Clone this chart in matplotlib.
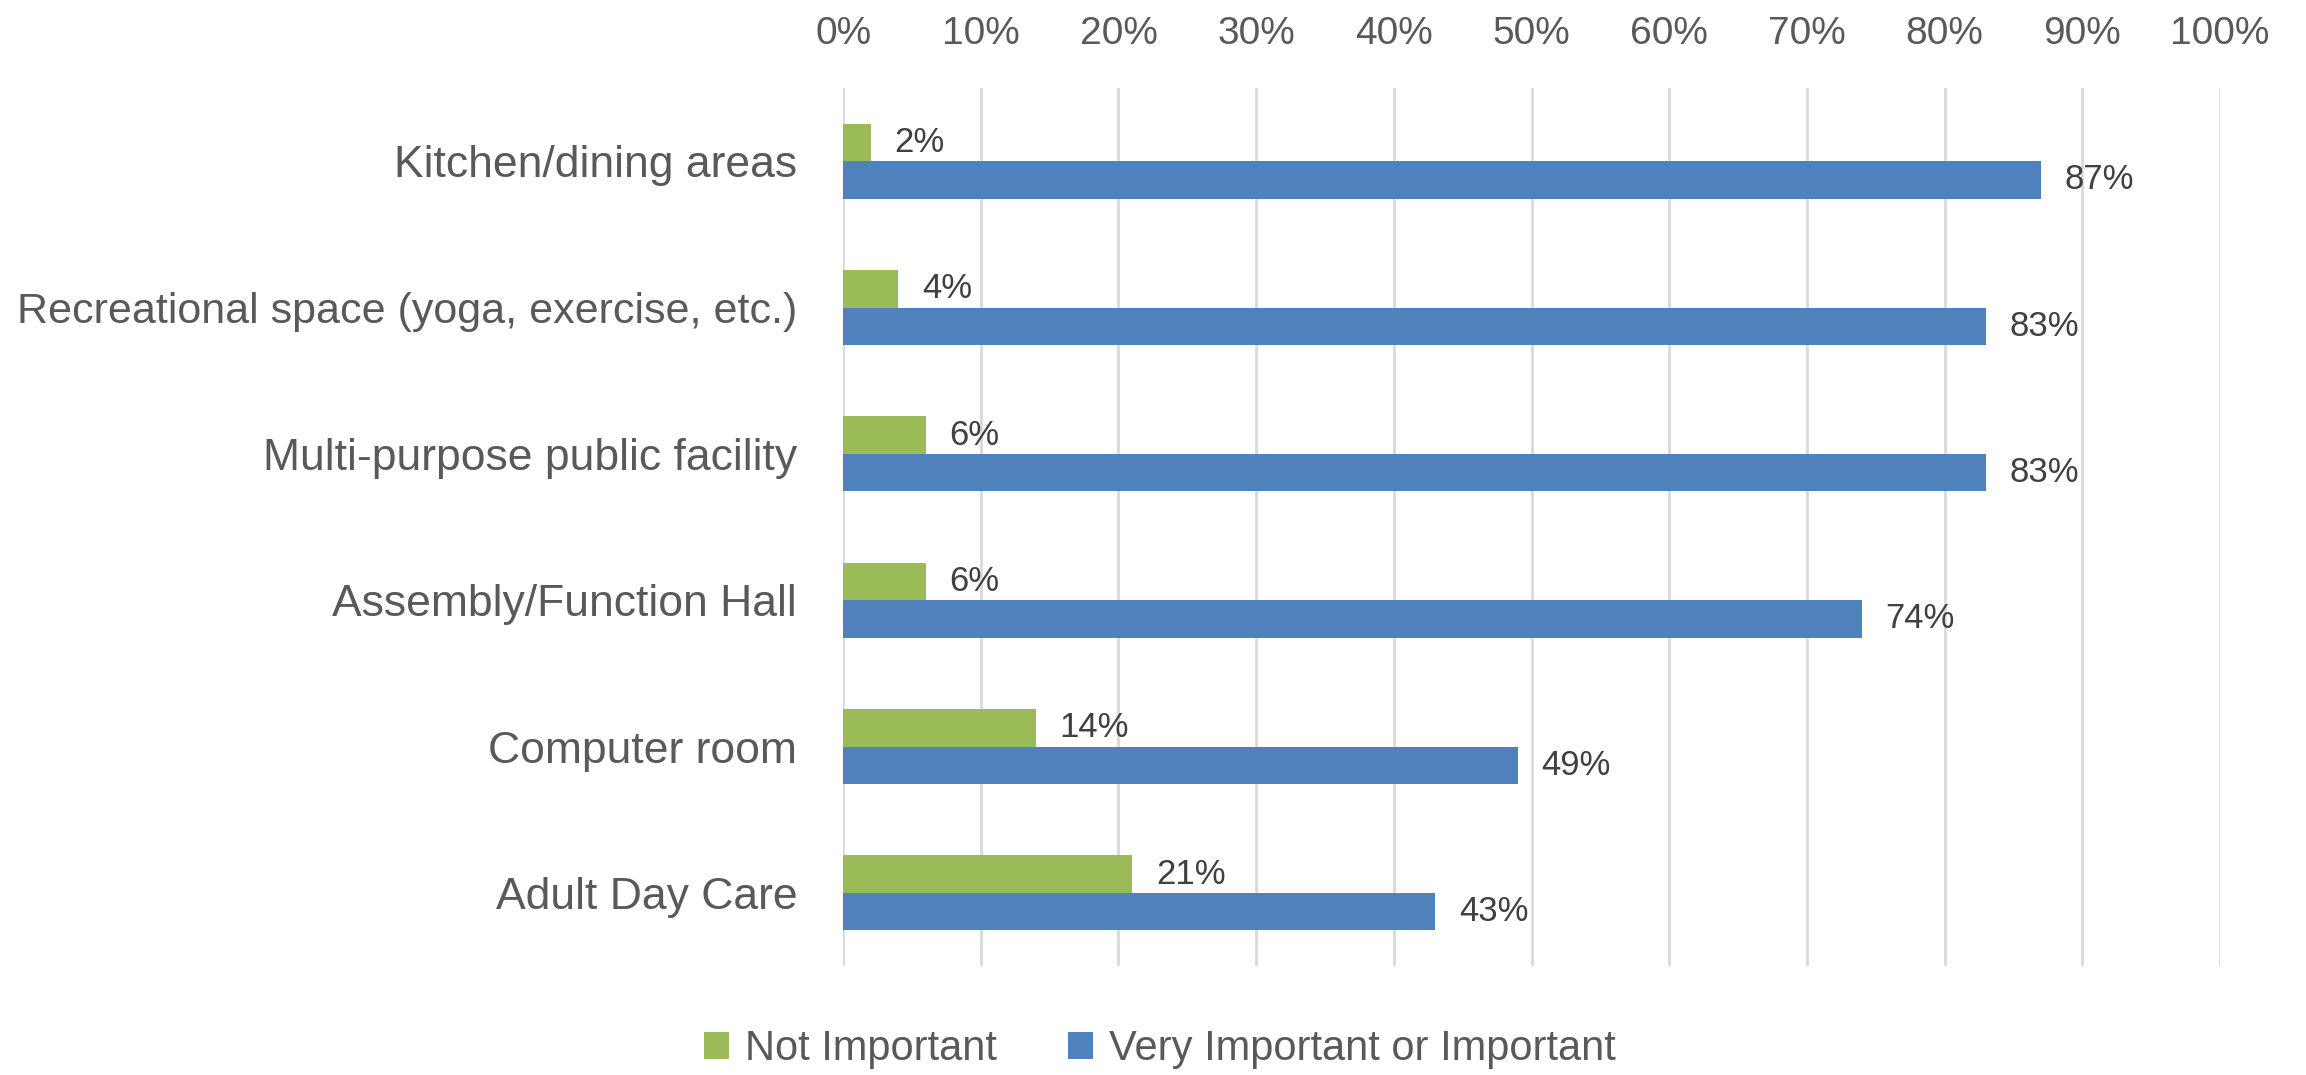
import matplotlib
matplotlib.use("Agg")
import matplotlib.pyplot as plt
from matplotlib.patches import Patch
import numpy as np

categories = [
    "Kitchen/dining areas",
    "Recreational space (yoga, exercise, etc.)",
    "Multi-purpose public facility",
    "Assembly/Function Hall",
    "Computer room",
    "Adult Day Care",
]
not_important = [2, 4, 6, 6, 14, 21]
very_important = [87, 83, 83, 74, 49, 43]
x_ticks = [0, 10, 20, 30, 40, 50, 60, 70, 80, 90, 100]
series_names = ["Not Important", "Very Important or Important"]

GREEN = "#9BBB59"
BLUE = "#4F81BD"
TEXT = "#595959"
LABEL = "#404040"
GRID = "#D9D9D9"

REG = ["Liberation Sans", "DejaVu Sans"]

fig = plt.figure(figsize=(23.06, 10.75), dpi=100)
ax = fig.add_axes([0.3656, 0.1014, 0.5971, 0.8167])

y = np.arange(len(categories))
h = 0.256
b1 = ax.barh(y - h / 2, not_important, height=h, color=GREEN, zorder=3)
b2 = ax.barh(y + h / 2, very_important, height=h, color=BLUE, zorder=3)

for cont, vals in ((b1, not_important), (b2, very_important)):
    ax.bar_label(cont, labels=[f"{v}%" for v in vals], padding=17,
                 color=LABEL, fontsize=25, family=REG)

ax.set_xlim(0, 100)
ax.set_ylim(len(categories) - 0.5, -0.5)
ax.set_xticks(x_ticks)
ax.set_xticklabels([f"{t}%" for t in x_ticks], family=REG, fontsize=28, color=TEXT)
ax.xaxis.tick_top()
ax.tick_params(axis="x", length=0, pad=26)
ax.set_yticks(y)
ax.set_yticklabels(categories, family=REG, fontsize=32, color=TEXT)
for lbl in ax.get_yticklabels():
    if lbl.get_text().startswith("Recreational"):
        lbl.set_fontsize(31)
ax.tick_params(axis="y", length=0, pad=33)

ax.grid(axis="x", color=GRID, linewidth=2.0, zorder=0)
ax.set_axisbelow(True)
for s in ax.spines.values():
    s.set_visible(False)

handles = [Patch(facecolor=GREEN), Patch(facecolor=BLUE)]
leg = fig.legend(handles, series_names, loc="center", bbox_to_anchor=(0.503, 0.024),
                 ncol=2, frameon=False, handlelength=0.6, handleheight=0.6,
                 handletextpad=0.38, columnspacing=1.7, borderpad=0,
                 prop={"family": REG, "size": 30})
for t in leg.get_texts():
    t.set_color(TEXT)

fig.savefig("out.png", dpi=100)
